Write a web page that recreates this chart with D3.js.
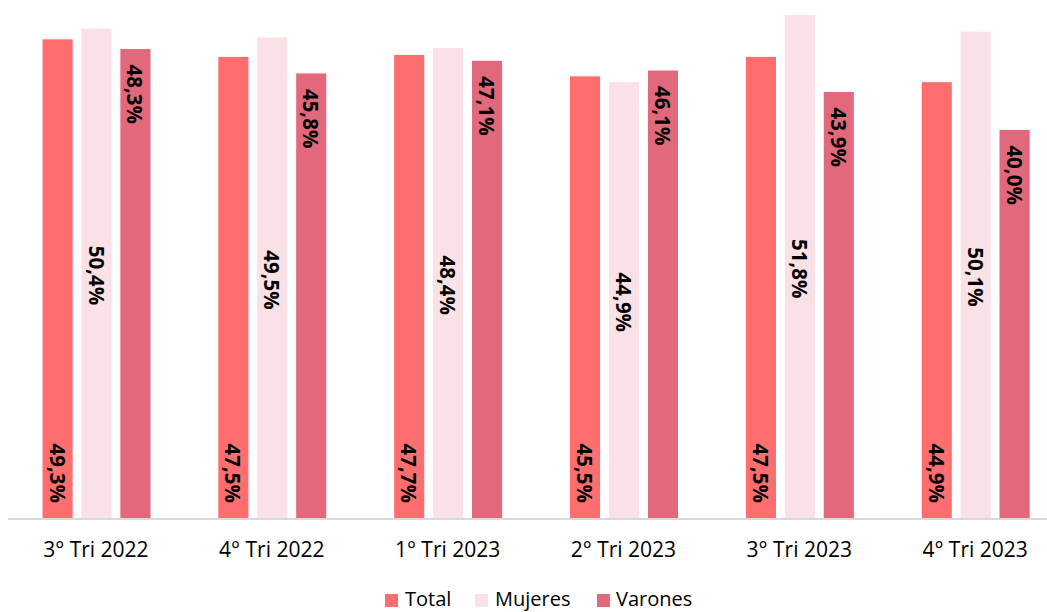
<!DOCTYPE html>
<html><head><meta charset="utf-8">
<script src="https://cdn.jsdelivr.net/npm/d3@7"></script>
<style>html,body{margin:0;padding:0;background:#fff;}svg{display:block;}</style>
</head><body>
<script>
const categories = ["3° Tri 2022","4° Tri 2022","1° Tri 2023","2° Tri 2023","3° Tri 2023","4° Tri 2023"];
const seriesNames = ["Total","Mujeres","Varones"];
const total   = [49.3, 47.5, 47.7, 45.5, 47.5, 44.9];
const mujeres = [50.4, 49.5, 48.4, 44.9, 51.8, 50.1];
const varones = [48.3, 45.8, 47.1, 46.1, 43.9, 40.0];
const colors = ["#FF6E6E", "#FAE1E5", "#E2687C"];
const labelPos = ["base", "middle", "end"];

const W = 1047, H = 612;
const series = [total, mujeres, varones];
const svg = d3.select("body").append("svg").attr("width", W).attr("height", H);
const font = "'Open Sans', 'Liberation Sans', sans-serif";

const baseY = 519;
const x0 = d3.scaleBand().domain(categories).range([8, 1063]).padding(0);
const x1 = d3.scaleBand().domain(seriesNames).range([34, 143]).paddingInner(0.2).paddingOuter(0);
const y = d3.scaleLinear().domain([0, 55]).range([baseY, baseY - 55 * 9.74]);

const fmt = v => v.toFixed(1).replace(".", ",") + "%";

const g = svg.append("g");
categories.forEach((c, i) => {
  const gg = g.append("g").attr("transform", `translate(${x0(c)},0)`);
  seriesNames.forEach((s, j) => {
    const v = series[j][i];
    const bx = x1(s), bw = x1.bandwidth();
    gg.append("rect")
      .attr("x", bx).attr("y", y(v))
      .attr("width", bw).attr("height", y(0) - y(v))
      .attr("fill", colors[j]).attr("stroke", "#fff").attr("stroke-width", 1);
    const cx = bx + bw / 2;
    let ty, anchor;
    if (labelPos[j] === "base") { ty = y(0) - 16; anchor = "end"; }
    else if (labelPos[j] === "end") { ty = y(v) + 16; anchor = "start"; }
    else { ty = (y(0) + y(v)) / 2 + 2; anchor = "middle"; }
    gg.append("text")
      .attr("transform", `translate(${cx},${ty}) rotate(90)`)
      .attr("text-anchor", anchor)
      .attr("dominant-baseline", "central")
      .attr("font-family", font).attr("font-weight", "bold").attr("font-size", 20.5)
      .attr("fill", "#000")
      .text(fmt(v));
  });
});

// x axis
const xAxis = d3.axisBottom(x0).tickSize(0).tickPadding(0);
const ax = svg.append("g").attr("transform", `translate(0,${baseY})`).call(xAxis);
ax.select(".domain").attr("stroke", "#D9D9D9").attr("stroke-width", 2).attr("d", `M8,0H1063`);
ax.selectAll(".tick text")
  .attr("font-family", font).attr("font-size", 21).attr("fill", "#000")
  .attr("y", 38).attr("dy", "0");

// legend
const legendItems = [
  {name: "Total", sx: 385, tx: 405},
  {name: "Mujeres", sx: 475, tx: 495},
  {name: "Varones", sx: 597, tx: 616}
];
const lg = svg.append("g");
legendItems.forEach((d, j) => {
  lg.append("rect").attr("x", d.sx).attr("y", 594).attr("width", 13).attr("height", 13).attr("fill", colors[j]);
  lg.append("text").attr("x", d.tx).attr("y", 606)
    .attr("font-family", font).attr("font-size", 20).attr("fill", "#000").text(d.name);
});
</script>
</body></html>
